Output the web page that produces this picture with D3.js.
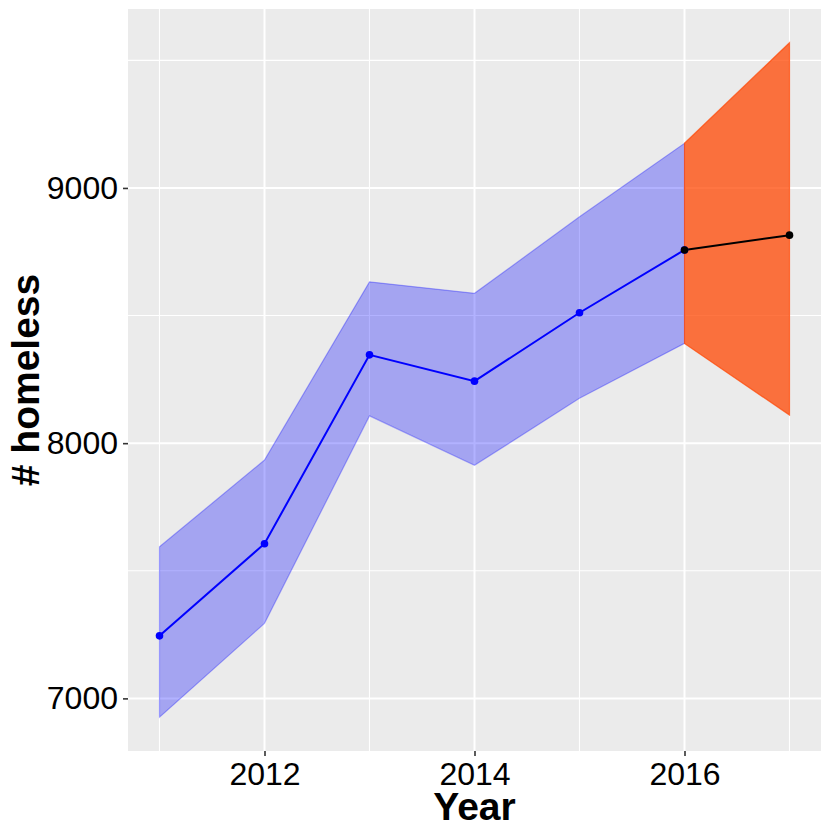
<!DOCTYPE html>
<html>
<head>
<meta charset="utf-8">
<script src="https://cdn.jsdelivr.net/npm/d3@7"></script>
<style>
html,body{margin:0;padding:0;background:#fff;}
text{font-family:"Liberation Sans",Arial,sans-serif;}
</style>
</head>
<body>
<svg id="chart" width="830" height="830"></svg>
<script>
// Observed series
const years = [2011, 2012, 2013, 2014, 2015, 2016];
const observed = [7245, 7606, 8346, 8243, 8511, 8757];
const obsLower = [6926, 7294, 8107, 7913, 8176, 8391];
const obsUpper = [7594, 7934, 8632, 8587, 8887, 9175];
// Forecast series
const fYears = [2016, 2017];
const forecast = [8757, 8815];
const fLower = [8391, 8110];
const fUpper = [9175, 9569];
// Ticks
const xMajor = [2012, 2014, 2016];
const xMinor = [2011, 2013, 2015, 2017];
const yMajor = [7000, 8000, 9000];
const yMinor = [7500, 8500, 9500];

const svg = d3.select("#chart");
const L = 128, R = 821, T = 9, B = 751;

const allLo = d3.min(obsLower.concat(fLower)), allHi = d3.max(obsUpper.concat(fUpper));
const yPad = (allHi - allLo) * 0.05;
const x = d3.scaleLinear().domain([2011 - 0.3, 2017 + 0.3]).range([L, R]);
const y = d3.scaleLinear().domain([allLo - yPad, allHi + yPad]).range([B, T]);

svg.append("rect").attr("x", L).attr("y", T).attr("width", R - L).attr("height", B - T).attr("fill", "#EBEBEB");

const g = svg.append("g");
g.selectAll(".ymin").data(yMinor).join("line")
  .attr("x1", L).attr("x2", R).attr("y1", d => y(d)).attr("y2", d => y(d))
  .attr("stroke", "#fff").attr("stroke-width", 1.1);
g.selectAll(".xmin").data(xMinor).join("line")
  .attr("y1", T).attr("y2", B).attr("x1", d => x(d)).attr("x2", d => x(d))
  .attr("stroke", "#fff").attr("stroke-width", 1.1);
g.selectAll(".ymaj").data(yMajor).join("line")
  .attr("x1", L).attr("x2", R).attr("y1", d => y(d)).attr("y2", d => y(d))
  .attr("stroke", "#fff").attr("stroke-width", 2);
g.selectAll(".xmaj").data(xMajor).join("line")
  .attr("y1", T).attr("y2", B).attr("x1", d => x(d)).attr("x2", d => x(d))
  .attr("stroke", "#fff").attr("stroke-width", 2);

const obs = years.map((yr, i) => ({yr, v: observed[i], lo: obsLower[i], hi: obsUpper[i]}));
const fc = fYears.map((yr, i) => ({yr, v: forecast[i], lo: fLower[i], hi: fUpper[i]}));

const area = d3.area().x(d => x(d.yr)).y0(d => y(d.lo)).y1(d => y(d.hi));
const line = d3.line().x(d => x(d.yr)).y(d => y(d.v));

svg.append("path").datum(obs).attr("d", area)
  .attr("fill", "rgba(0,0,255,0.3)").attr("stroke", "rgba(0,0,255,0.3)").attr("stroke-width", 1.2);
svg.append("path").datum(fc).attr("d", area)
  .attr("fill", "rgba(255,69,0,0.74)").attr("stroke", "rgba(255,69,0,0.7)").attr("stroke-width", 1.2);

svg.append("path").datum(obs).attr("d", line).attr("fill", "none").attr("stroke", "blue").attr("stroke-width", 2);
svg.append("path").datum(fc).attr("d", line).attr("fill", "none").attr("stroke", "black").attr("stroke-width", 2);
svg.selectAll(".pobs").data(obs).join("circle")
  .attr("cx", d => x(d.yr)).attr("cy", d => y(d.v)).attr("r", 3.8).attr("fill", "blue");
svg.selectAll(".pfc").data(fc).join("circle")
  .attr("cx", d => x(d.yr)).attr("cy", d => y(d.v)).attr("r", 3.8).attr("fill", "black");

// Axes
const xAxis = d3.axisBottom(x).tickValues(xMajor).tickFormat(d3.format("d")).tickSize(5).tickPadding(4);
const xa = svg.append("g").attr("transform", `translate(0,${B})`).call(xAxis);
xa.select(".domain").remove();
xa.selectAll("line").attr("stroke", "#333").attr("stroke-width", 1.6);
xa.selectAll("text").attr("font-size", 32).attr("fill", "#000").attr("dy", "0.78em")
  .attr("font-family", "Liberation Sans, Arial, sans-serif");

const yAxis = d3.axisLeft(y).tickValues(yMajor).tickFormat(d3.format("d")).tickSize(5).tickPadding(5);
const ya = svg.append("g").attr("transform", `translate(${L},0)`).call(yAxis);
ya.select(".domain").remove();
ya.selectAll("line").attr("stroke", "#333").attr("stroke-width", 1.6);
ya.selectAll("text").attr("font-size", 32).attr("fill", "#000")
  .attr("font-family", "Liberation Sans, Arial, sans-serif");

svg.append("text").attr("x", (L + R) / 2).attr("y", 820).attr("text-anchor", "middle")
  .attr("font-size", 39).attr("font-weight", "bold").text("Year");
svg.append("text").attr("transform", `translate(39,${(T + B) / 2}) rotate(-90)`).attr("text-anchor", "middle")
  .attr("font-size", 39).attr("font-weight", "bold").text("# homeless");
</script>
</body>
</html>
